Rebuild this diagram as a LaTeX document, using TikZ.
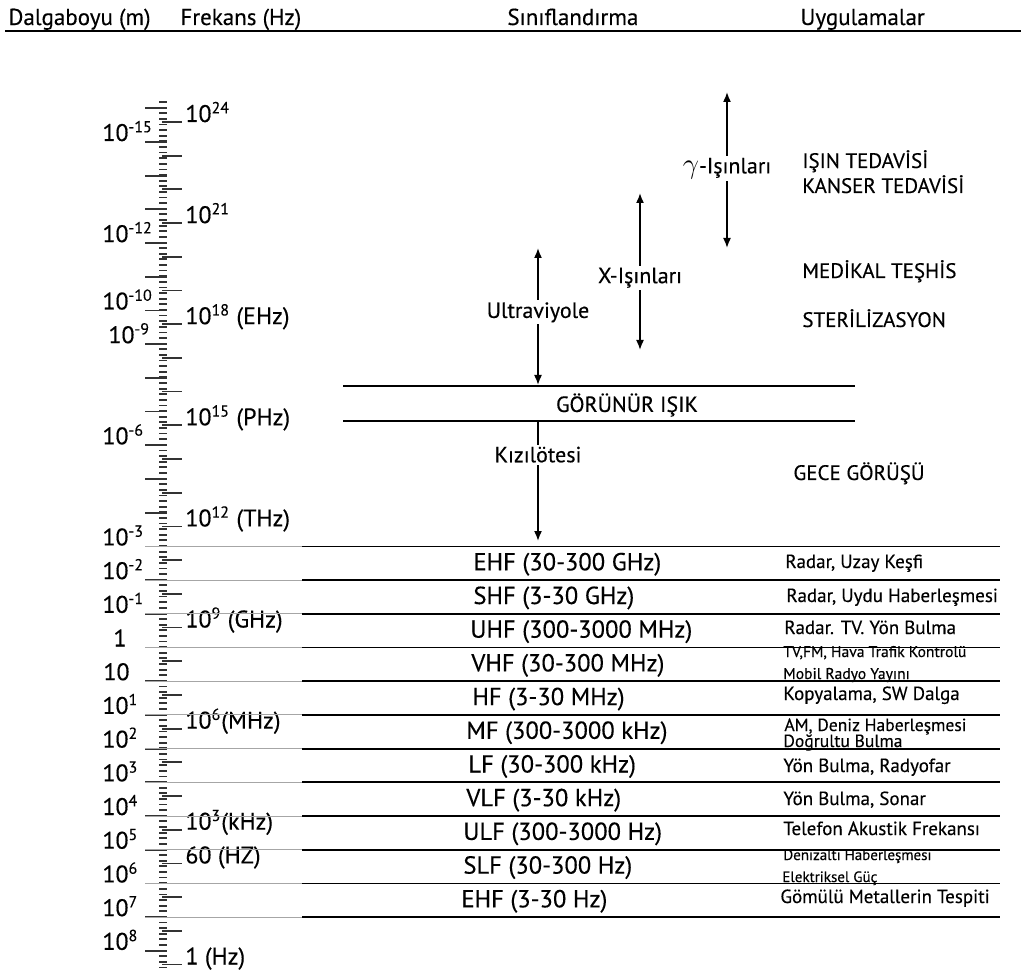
\documentclass[tikz,border=0pt]{standalone}
\usepackage{fontspec}
\setmainfont{PT Sans}[FakeBold=0.3]
\usetikzlibrary{arrows.meta}
\newcommand{\pw}[1]{\textsuperscript{#1}}
\tikzset{
  colhead/.style={anchor=base west,inner sep=0pt,font=\fontsize{11.5}{13}\selectfont},
  wavelbl/.style={anchor=base west,inner sep=0pt,font=\fontsize{12}{14}\selectfont},
  freqlbl/.style={anchor=base west,inner sep=0pt,font=\fontsize{12}{14}\selectfont},
  clslbl/.style={anchor=west,inner sep=0pt,font=\fontsize{12.3}{14}\selectfont},
  appl/.style={anchor=base west,inner sep=0pt,font=\fontsize{9.5}{11}\selectfont},
  applsmall/.style={anchor=base west,inner sep=0pt,font=\fontsize{7.8}{9}\selectfont},
  applbig/.style={anchor=base west,inner sep=0pt,font=\fontsize{10.5}{12}\selectfont},
  raylbl/.style={fill=white,inner sep=1pt,font=\fontsize{11}{13}\selectfont},
  scaletick/.style={line width=0.9pt,black!80},
  guide/.style={line width=0.5pt,black!35},
  bandline/.style={line width=0.9pt},
  rayarrow/.style={line width=0.8pt},
}
\begin{document}
\begin{tikzpicture}[x=0.5pt,y=-0.5pt,line join=round,>={Latex[length=5pt,width=4pt]}]
\useasboundingbox (0,0) rectangle (1021,972);
% headings
\node[colhead] (hWave) at (8,25) {Dalgaboyu (m)};
\node[colhead] (hFreq) at (180,25) {Frekans (Hz)};
\node[colhead] (hClass) at (507,25) {Sınıflandırma};
\node[colhead] (hUse) at (800,25) {Uygulamalar};
\coordinate (hL) at (5,31); \coordinate (hR) at (1021,31);
\draw[line width=1.2pt] (hL)--(hR);
% the scale
\foreach \i in {0,...,154} \draw[scaletick] (159,{102+5.62*\i})--(167,{102+5.62*\i});
\foreach \i in {-1,...,24} \draw[scaletick] (145,{142+33.7*\i})--(167,{142+33.7*\i});
\foreach \i in {0,...,25} \draw[scaletick] (162,{122+33.7*\i})--(182,{122+33.7*\i});
\foreach \i/\x/\t in {0/102/{10\pw{-15}},3/102/{10\pw{-12}},5/102/{10\pw{-10}},6/108/{10\pw{-9}},
  9/102/{10\pw{-6}},12/102/{10\pw{-3}},13/102/{10\pw{-2}},14/102/{10\pw{-1}},15/113/{1},16/103/{10},
  17/102/{10\pw{1}},18/102/{10\pw{2}},19/102/{10\pw{3}},20/102/{10\pw{4}},21/102/{10\pw{5}},
  22/102/{10\pw{6}},23/102/{10\pw{7}},24/102/{10\pw{8}}}
  \node[wavelbl] (w\i) at (\x,{142+33.7*\i-1}) {\t};
\foreach \i/\t in {0/{10\pw{24}},3/{10\pw{21}},6/{10\pw{18} (EHz)},9/{10\pw{15} (PHz)},12/{10\pw{12} (THz)},
  15/{10\pw{9} (GHz)},18/{10\pw{6}(MHz)},21/{10\pw{3}(kHz)},22/{60 (HZ)},25/{1 (Hz)}}
  \node[freqlbl] (f\i) at (185,{122+33.7*\i}) {\t};
% upper part
\coordinate (visTL) at (343,386); \coordinate (visTR) at (855,386);
\coordinate (visBL) at (343,421); \coordinate (visBR) at (855,421);
\draw[bandline] (visTL)--(visTR);
\draw[bandline] (visBL)--(visBR);
\node[font=\fontsize{11}{12}\selectfont] (vis) at (627,405) {GÖRÜNÜR IŞIK};
\coordinate (uvTop) at (538,248); \coordinate (uvBot) at (538,385);
\coordinate (xTop) at (640,193); \coordinate (xBot) at (640,350);
\coordinate (gTop) at (727,92); \coordinate (gBot) at (727,248);
\coordinate (irTop) at (538,421); \coordinate (irBot) at (538,541);
\draw[rayarrow,<->] (uvTop)--node[raylbl,pos=0.47] (uv) {Ultraviyole} (uvBot);
\draw[rayarrow,<->] (xTop)--node[raylbl,pos=0.54] (xr) {X-Işınları} (xBot);
\draw[rayarrow,<->] (gTop)--node[raylbl,pos=0.49] (gr) {\fontsize{15}{15}\selectfont$\gamma$\fontsize{11}{13}\selectfont-Işınları} (gBot);
\draw[rayarrow,->] (irTop)--node[raylbl,pos=0.28] (ir) {Kızılötesi} (irBot);
\node[applbig] (a1) at (802,168) {IŞIN TEDAVİSİ};
\node[applbig] (a2) at (802,193) {KANSER TEDAVİSİ};
\node[applbig] (a3) at (802,278) {MEDİKAL TEŞHİS};
\node[applbig] (a4) at (802,327) {STERİLİZASYON};
\node[applbig] (a5) at (793,480) {GECE GÖRÜŞÜ};
% radio bands
\foreach \i in {12,...,23}{
  \draw[guide] (145,{142+33.7*\i})--(302,{142+33.7*\i});
  \draw[bandline] (302,{142+33.7*\i})--(1000,{142+33.7*\i});
}
\foreach \i/\x/\t in {12/473/{EHF (30-300 GHz)},13/473/{SHF (3-30 GHz)},14/470/{UHF (300-3000 MHz)},
  15/471/{VHF (30-300 MHz)},16/472/{HF (3-30 MHz)},17/466/{MF (300-3000 kHz)},18/468/{LF (30-300 kHz)},
  19/466/{VLF (3-30 kHz)},20/463/{ULF (300-3000 Hz)},21/463/{SLF (30-300 Hz)},22/461/{EHF (3-30 Hz)}}
  \node[clslbl] (b\i) at (\x,{142+33.7*(\i+0.5)+1}) {\t};
\node[appl] (u1) at (785,568) {Radar, Uzay Keşfi};
\node[appl] (u2) at (786,602) {Radar, Uydu Haberleşmesi};
\node[appl] (u3) at (784,634) {Radar. TV. Yön Bulma};
\node[applsmall] (u4) at (783,657) {TV,FM, Hava Trafik Kontrolü};
\node[applsmall] (u5) at (783,679) {Mobil Radyo Yayını};
\node[appl] (u6) at (783,700) {Kopyalama, SW Dalga};
\node[appl,font=\fontsize{8.8}{10}\selectfont] (u7) at (784,731) {AM, Deniz Haberleşmesi};
\node[appl,font=\fontsize{8.8}{10}\selectfont] (u8) at (783,747) {Doğrultu Bulma};
\node[appl] (u9) at (783,772) {Yön Bulma, Radyofar};
\node[appl] (u10) at (783,805) {Yön Bulma, Sonar};
\node[appl] (u11) at (783,835) {Telefon Akustik Frekansı};
\node[applsmall,font=\fontsize{7.5}{8}\selectfont] (u12) at (783,860) {Denizaltı Haberleşmesi};
\node[applsmall,font=\fontsize{7.5}{8}\selectfont] (u13) at (782,882) {Elektriksel Güç};
\node[appl] (u14) at (780,903) {Gömülü Metallerin Tespiti};
\end{tikzpicture}
\end{document}
